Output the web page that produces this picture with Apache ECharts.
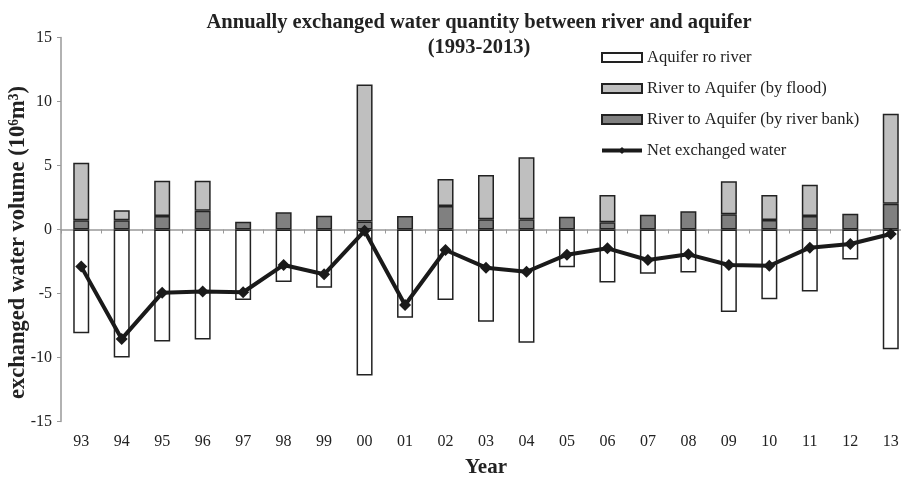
<!DOCTYPE html>
<html>
<head>
<meta charset="utf-8">
<script src="https://cdn.jsdelivr.net/npm/echarts@6/dist/echarts.min.js"></script>
<style>
  html, body { margin: 0; padding: 0; background: #fff; }
  #chart { width: 901px; height: 478px; }
</style>
</head>
<body>
<div id="chart"></div>
<script>
  // 年份 + 各分量 (10^6 m3)
  var years = ['93', '94', '95', '96', '97', '98', '99', '00', '01', '02', '03',
    '04', '05', '06', '07', '08', '09', '10', '11', '12', '13']
  var aquiferToRiver = [-8.1, -10.0, -8.75, -8.6, -5.5, -4.1, -4.55, -11.4, -6.9, -5.5, -7.2,
    -8.85, -2.95, -4.15, -3.45, -3.35, -6.45, -5.45, -4.85, -2.35, -9.35]
  var riverBank = [0.72, 0.72, 1.05, 1.47, 0.6, 1.34, 1.08, 0.62, 1.05, 1.84, 0.8,
    0.8, 1.0, 0.56, 1.16, 1.42, 1.19, 0.74, 1.05, 1.23, 2.02]
  var flood = [4.5, 0.78, 2.76, 2.34, null, null, null, 10.7, null, 2.11, 3.46,
    4.84, null, 2.14, null, null, 2.57, 1.96, 2.45, null, 7.03]
  var netWater = [-2.9, -8.55, -4.95, -4.85, -4.9, -2.77, -3.5, -0.1, -5.9, -1.6, -2.98,
    -3.3, -1.97, -1.47, -2.38, -1.94, -2.77, -2.83, -1.42, -1.13, -0.35]
  var yTicks = [-15, -10, -5, 0, 5, 10, 15]

  var serif = '"Liberation Serif", "DejaVu Serif", serif'
  var chart = echarts.init(document.getElementById('chart'))

  var option = {
    backgroundColor: '#fff',
    animation: false,
    textStyle: { fontFamily: serif },
    title: {
      text: 'Annually exchanged water quantity between river and aquifer\n(1993-2013)',
      left: 474,
      top: 5,
      textAlign: 'center',
      textStyle: { fontFamily: serif, fontSize: 20.5, fontWeight: 'bold', color: '#222', lineHeight: 25 }
    },
    legend: {
      orient: 'vertical',
      left: 600,
      top: 49,
      padding: 0,
      itemWidth: 40,
      itemHeight: 9,
      itemGap: 14,
      textStyle: { fontFamily: serif, fontSize: 16.5, color: '#222', lineHeight: 16 },
      data: [
        { name: 'Aquifer ro river', icon: 'rect' },
        { name: 'River to Aquifer (by flood)', icon: 'rect' },
        { name: 'River to Aquifer (by river bank)', icon: 'rect' },
        { name: 'Net exchanged water', lineStyle: { width: 4, color: '#1a1a1a' } }
      ]
    },
    grid: { left: 61, right: -10, top: 37.5, bottom: 56.5, containLabel: false, outerBoundsMode: 'none' },
    xAxis: [{
      type: 'category',
      data: years,
      position: 'bottom',
      axisLine: { onZero: true, lineStyle: { color: '#999', width: 1.5 } },
      axisTick: { show: true, length: 4, lineStyle: { color: '#999' } },
      axisLabel: { show: false }
    }, {
      type: 'category',
      data: years,
      position: 'bottom',
      axisLine: { show: false, onZero: false },
      axisTick: { show: false },
      axisLabel: { fontFamily: serif, fontSize: 16, color: '#222', margin: 12 },
      name: 'Year',
      nameLocation: 'middle',
      nameGap: 36,
      nameMoveOverlap: false,
      nameTextStyle: { fontFamily: serif, fontSize: 21, fontWeight: 'bold', color: '#222' }
    }],
    yAxis: {
      type: 'value',
      min: yTicks[0],
      max: yTicks[yTicks.length - 1],
      interval: 5,
      splitLine: { show: false },
      axisLine: { show: true, lineStyle: { color: '#999', width: 1.5 } },
      axisTick: { show: true, length: 4, lineStyle: { color: '#999' } },
      axisLabel: { fontFamily: serif, fontSize: 16, color: '#222', margin: 9 },
      name: 'exchanged water volume (10\u2076m\u00b3)',
      nameLocation: 'middle',
      nameGap: 31,
      nameMoveOverlap: false,
      nameTextStyle: { fontFamily: serif, fontSize: 22.5, fontWeight: 'bold', color: '#222', padding: [0, 26, 0, 0] }
    },
    series: [{
      name: 'River to Aquifer (by river bank)',
      type: 'bar',
      stack: 'all',
      barWidth: 16,
      data: riverBank,
      itemStyle: { color: '#808080', borderColor: '#222', borderWidth: 1.5 }
    }, {
      name: 'River to Aquifer (by flood)',
      type: 'bar',
      stack: 'all',
      barWidth: 16,
      data: flood,
      itemStyle: { color: '#bfbfbf', borderColor: '#222', borderWidth: 1.5 }
    }, {
      name: 'Aquifer ro river',
      type: 'bar',
      stack: 'all',
      barWidth: 16,
      data: aquiferToRiver,
      itemStyle: { color: '#fff', borderColor: '#222', borderWidth: 1.5 }
    }, {
      name: 'Net exchanged water',
      type: 'line',
      data: netWater,
      symbol: 'diamond',
      symbolSize: 12,
      z: 5,
      lineStyle: { color: '#1a1a1a', width: 4 },
      itemStyle: { color: '#1a1a1a' }
    }]
  }
  chart.setOption(option)
</script>
</body>
</html>
